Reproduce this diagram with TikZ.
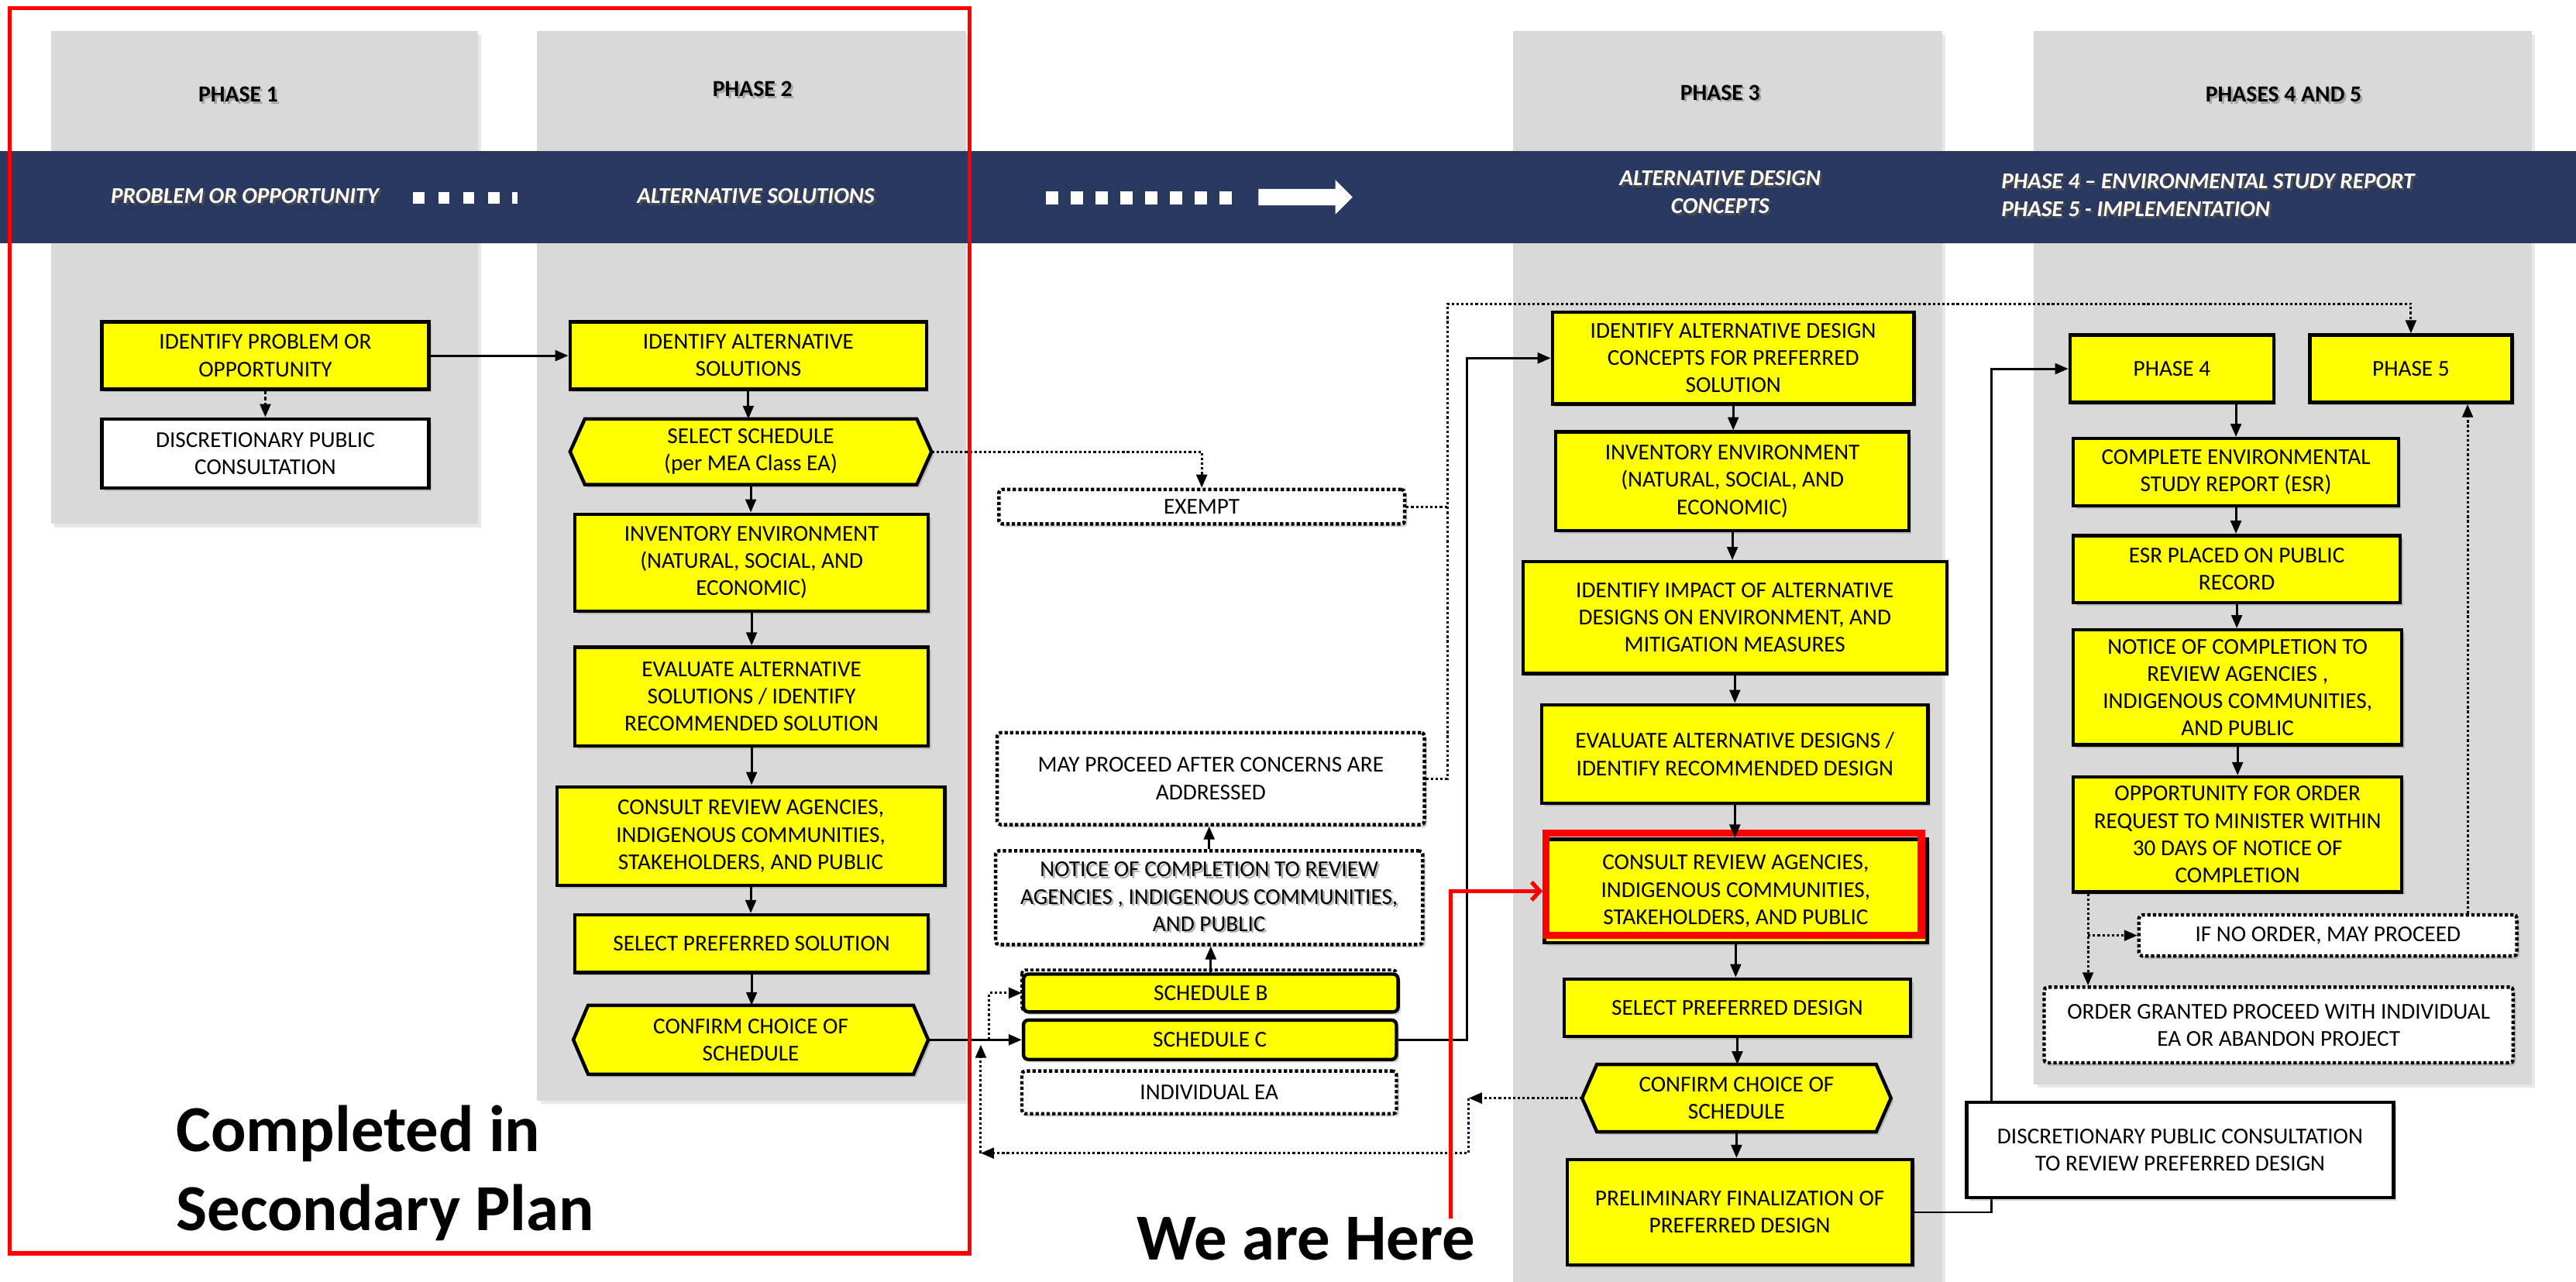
\documentclass[tikz,border=0pt]{standalone}
\usepackage{fontspec}
\setmainfont{Carlito}
\usetikzlibrary{arrows.meta,shadows,calc}
\definecolor{yel}{HTML}{FFFF00}
\definecolor{panel}{HTML}{D9D9D9}
\definecolor{navy}{RGB}{40,56,97}
\newcommand{\TxtShadow}[3]{\leavevmode\rlap{\kern#1\raisebox{-#1}{\color{#2}#3}}#3}
\newcommand{\hexpath}[2]{\draw[hexd] (#1.west) -- ($(#1.north west)+(#2,0)$) -- ($(#1.north east)+(-#2,0)$) -- (#1.east) -- ($(#1.south east)+(-#2,0)$) -- ($(#1.south west)+(#2,0)$) -- cycle;}
\begin{document}
\begin{tikzpicture}[x=1pt,y=-1pt,
  txt/.style={font=\fontsize{13.8}{16.6}\selectfont, align=center, inner sep=1pt},
  box/.style={txt, draw=black, line width=2.1pt, inner sep=2pt,
     drop shadow={shadow xshift=1.6pt, shadow yshift=-1.8pt, opacity=0.35}},
  ybox/.style={box, fill=yel},
  wbox/.style={box, fill=white},
  dbox/.style={box, fill=white, dash pattern=on 2pt off 1.4pt, rounded corners=2pt},
  rbox/.style={box, fill=yel, rounded corners=3pt},
  hexbase/.style={rectangle, inner sep=0pt, outer sep=0pt},
  hexd/.style={draw=black, line width=2.1pt, fill=yel, line join=miter,
     drop shadow={shadow xshift=1.6pt, shadow yshift=-1.8pt, opacity=0.35}},
  sz/.style 2 args={minimum width=#1, minimum height=#2},
  conn/.style={line width=1.4pt, -{Triangle[length=8pt,width=6.5pt]}},
  dconn/.style={conn, dash pattern=on 1.5pt off 1.4pt},
  dline/.style={line width=1.4pt, dash pattern=on 1.5pt off 1.4pt},
  hdr/.style={font=\bfseries\fontsize{14}{16.6}\selectfont, inner sep=0pt},
  band/.style={font=\bfseries\itshape\fontsize{13.8}{17}\selectfont, text=white, inner sep=0pt},
  pan/.style={fill=panel, drop shadow={shadow xshift=2pt, shadow yshift=-2pt, opacity=0.18}},
  big/.style={font=\bfseries\fontsize{40}{48}\selectfont, inner sep=0pt, anchor=base west}
]
\useasboundingbox (0,0) rectangle (1568,780);
\fill[white] (0,0) rectangle (1568,780);
% panels
\fill[pan] (31,19) rectangle (291,319);
\fill[pan] (327,19) rectangle (588,670);
\fill[pan] (921,19) rectangle (1182,790);
\fill[pan] (1238,19) rectangle (1541,660);
% band
\fill[navy] (0,92) rectangle (1568,148);
\foreach \xx in {251.4,266.7,282,297.3} \fill[white] (\xx,116.8) rectangle ++(6.8,7.4);
\fill[white] (311.7,116.8) rectangle ++(3.4,7.4);
\foreach \i in {0,...,7} \fill[white] ({636.7+15.09*\i},116.5) rectangle ++(7.4,7.8);
\fill[white] (766,115) -- (812.8,115) -- (812.8,109.5) -- (823.3,120) -- (812.8,130.5) -- (812.8,125) -- (766,125) -- cycle;
% headers
\node[hdr] (h1) at (145,58) {\TxtShadow{1.3pt}{black!35}{PHASE 1}};
\node[hdr] (h2) at (458,55) {\TxtShadow{1.3pt}{black!35}{PHASE 2}};
\node[hdr] (h3) at (1047,57) {\TxtShadow{1.3pt}{black!35}{PHASE 3}};
\node[hdr] (h4) at (1390,58) {\TxtShadow{1.3pt}{black!35}{PHASES 4 AND 5}};
\node[band] (b1) at (149,120) {\TxtShadow{1.3pt}{black!70}{PROBLEM OR OPPORTUNITY}};
\node[band] (b2) at (460,120) {\TxtShadow{1.3pt}{black!70}{ALTERNATIVE SOLUTIONS}};
\node[band, align=center] (b3) at (1047,117.5) {\TxtShadow{1.3pt}{black!70}{ALTERNATIVE DESIGN}\\\TxtShadow{1.3pt}{black!70}{CONCEPTS}};
\node[band, align=left, anchor=west] (b4) at (1218,119.5) {\TxtShadow{1.3pt}{black!70}{PHASE 4 – ENVIRONMENTAL STUDY REPORT}\\\TxtShadow{1.3pt}{black!70}{PHASE 5 - IMPLEMENTATION}};

% Phase 1
\node[ybox, sz={199}{41}] (p1a) at (161.5,216.5) {IDENTIFY PROBLEM OR\\OPPORTUNITY};
\node[wbox, sz={199}{42}] (p1b) at (161.5,276) {DISCRETIONARY PUBLIC\\CONSULTATION};
% Phase 2
\node[ybox, sz={217}{41}] (p2a) at (455.5,216.5) {IDENTIFY ALTERNATIVE\\SOLUTIONS};
\node[hexbase, sz={220}{40}] (p2b) at (457,275) {};
\hexpath{p2b}{9}
\node[txt] (p2bt) at (p2b) {SELECT SCHEDULE\\(per MEA Class EA)};
\node[ybox, sz={215}{59}] (p2c) at (457.5,342.5) {INVENTORY ENVIRONMENT\\(NATURAL, SOCIAL, AND\\ECONOMIC)};
\node[ybox, sz={215}{60}] (p2d) at (457.5,424) {EVALUATE ALTERNATIVE\\SOLUTIONS / IDENTIFY\\RECOMMENDED SOLUTION};
\node[ybox, sz={236}{60}] (p2e) at (457,509) {CONSULT REVIEW AGENCIES,\\INDIGENOUS COMMUNITIES,\\STAKEHOLDERS, AND PUBLIC};
\node[ybox, sz={215}{35}] (p2f) at (457.5,574.5) {SELECT PREFERRED SOLUTION};
\node[hexbase, sz={216}{42}] (p2g) at (457,633) {};
\hexpath{p2g}{9}
\node[txt] (p2gt) at (p2g) {CONFIRM CHOICE OF\\SCHEDULE};

% Middle column
\node[dbox, sz={247}{21}] (ex) at (731.5,308.5) {EXEMPT};
\node[dbox, sz={260}{56}] (mp) at (737,474) {MAY PROCEED AFTER CONCERNS ARE\\ADDRESSED};
\node[dbox, sz={260}{57}] (nc) at (736,546.5) {\TxtShadow{1.2pt}{black!30}{NOTICE OF COMPLETION TO REVIEW}\\\TxtShadow{1.2pt}{black!30}{AGENCIES , INDIGENOUS COMMUNITIES,}\\\TxtShadow{1.2pt}{black!30}{AND PUBLIC}};
\draw[line width=1.8pt, dash pattern=on 2pt off 1.4pt, rounded corners=2pt] (622,590.5) rectangle (850,615);
\node[rbox, sz={228}{23}] (sb) at (737,604.5) {SCHEDULE B};
\node[rbox, sz={227}{24}] (sc) at (736.5,633) {SCHEDULE C};
\node[dbox, sz={228}{26}] (ie) at (736,665) {INDIVIDUAL EA};

% Phase 3
\node[ybox, sz={220}{56}] (q1) at (1055,218) {IDENTIFY ALTERNATIVE DESIGN\\CONCEPTS FOR PREFERRED\\SOLUTION};
\node[ybox, sz={215}{60}] (q2) at (1054.5,293) {INVENTORY ENVIRONMENT\\(NATURAL, SOCIAL, AND\\ECONOMIC)};
\node[ybox, sz={258}{68}] (q3) at (1056,376) {IDENTIFY IMPACT OF ALTERNATIVE\\DESIGNS ON ENVIRONMENT, AND\\MITIGATION MEASURES};
\node[ybox, sz={235}{60}] (q4) at (1056,459) {EVALUATE ALTERNATIVE DESIGNS /\\IDENTIFY RECOMMENDED DESIGN};
\node[ybox, sz={233}{63}] (q5) at (1056.5,542.5) {CONSULT REVIEW AGENCIES,\\INDIGENOUS COMMUNITIES,\\STAKEHOLDERS, AND PUBLIC};
\draw[red, line width=4.5pt] (941,507.2) rectangle (1169.5,569.5);
\node[ybox, sz={211}{35}] (q6) at (1057.5,613.5) {SELECT PREFERRED DESIGN};
\node[hexbase, sz={188}{41}] (q7) at (1057,668.5) {};
\hexpath{q7}{9}
\node[txt] (q7t) at (q7) {CONFIRM CHOICE OF\\SCHEDULE};
\node[ybox, sz={210}{64}] (q8) at (1059,738) {PRELIMINARY FINALIZATION OF\\PREFERRED DESIGN};

% Phases 4 and 5
\node[ybox, sz={124}{41}] (r4) at (1322,224.5) {PHASE 4};
\node[ybox, sz={123}{41}] (r5) at (1467.5,224.5) {PHASE 5};
\node[ybox, sz={198}{41}] (r1) at (1361,287.5) {COMPLETE ENVIRONMENTAL\\STUDY REPORT (ESR)};
\node[ybox, sz={199}{41}] (r2) at (1361.5,346.5) {ESR PLACED ON PUBLIC\\RECORD};
\node[ybox, sz={200}{70}] (r3) at (1362,418.5) {NOTICE OF COMPLETION TO\\REVIEW AGENCIES ,\\INDIGENOUS COMMUNITIES,\\AND PUBLIC};
\node[ybox, sz={200}{70}] (r6) at (1362,508) {OPPORTUNITY FOR ORDER\\REQUEST TO MINISTER WITHIN\\30 DAYS OF NOTICE OF\\COMPLETION};
\node[dbox, sz={230}{25}] (r7) at (1417,569.5) {IF NO ORDER, MAY PROCEED};
\node[dbox, sz={285.5}{46}] (r8) at (1387,624) {ORDER GRANTED PROCEED WITH INDIVIDUAL\\EA OR ABANDON PROJECT};

% coordinates
\coordinate (j1) at (881,185);
\coordinate (k1) at (602,633);
\coordinate (k2) at (893,218);
\coordinate (k3) at (894,668.5);
\coordinate (k4) at (894,702);
\coordinate (k5) at (597,702);
\coordinate (k6) at (597,636);
\coordinate (k7) at (1212,224.5);
\coordinate (we) at (883,742);
\coordinate (m1) at ($(r6.south west)+(10,0)$);
\coordinate (m2) at ($(r7.north)+(85,0)$);

% connectors phase 1/2
\draw[conn] (p1a.east) -- (p2a.west);
\draw[conn, dash pattern=on 2pt off 1.6pt] (p1a.south) -- (p1b.north);
\draw[conn] (p2a.south) -- (p2a.south |- p2b.north);
\draw[conn] (p2b.south) -- (p2b.south |- p2c.north);
\draw[conn] (p2c.south) -- (p2c.south |- p2d.north);
\draw[conn] (p2d.south) -- (p2d.south |- p2e.north);
\draw[conn] (p2e.south) -- (p2e.south |- p2f.north);
\draw[conn] (p2f.south) -- (p2f.south |- p2g.north);
\draw[dconn] (p2b.east) -| (ex.north);
\draw[dline] (ex.east) -- (ex.east -| j1);
\draw[dconn] (mp.east) -| (j1) -| (r5.north);
\draw[conn] (nc.north) -- (nc.north |- mp.south);
\draw[conn] (sb.north) -- (sb.north |- nc.south);
\draw[conn] (p2g.east) -- (sc.west);
\draw[dconn] (k1) |- (sb.west);
\draw[conn] (sc.east) -| (k2) -- (q1.west);
\draw[dconn] (q7.west) -- (k3);
\draw[dconn] (k3) -- (k4) -- (k5);
\draw[dconn] (k5) -- (k6);
% phase 3 chain
\draw[conn] (q1.south) -- (q1.south |- q2.north);
\draw[conn] (q2.south) -- (q2.south |- q3.north);
\draw[conn] (q3.south) -- (q3.south |- q4.north);
\draw[conn] (q4.south) -- (q4.south |- q5.north);
\draw[conn] (q5.south) -- (q5.south |- q6.north);
\draw[conn] (q6.south) -- (q6.south |- q7.north);
\draw[conn] (q7.south) -- (q7.south |- q8.north);
\draw[conn] (q8.east) -| (k7) -- (r4.west);
% phases 4/5 chain
\draw[conn] (r1.north |- r4.south) -- (r1.north);
\draw[conn] (r1.south) -- (r1.south |- r2.north);
\draw[conn] (r2.south) -- (r2.south |- r3.north);
\draw[conn] (r3.south) -- (r3.south |- r6.north);
\draw[dconn] (m1) -- (m1 |- r8.north);
\draw[dconn] (m1 |- r7.west) -- (r7.west);
\draw[dconn] (m2) -- (m2 |- r5.south);

\node[wbox, sz={260}{58}] (r9) at (1327,700) {DISCRETIONARY PUBLIC CONSULTATION\\TO REVIEW PREFERRED DESIGN};

% we are here
\draw[red, line width=2.2pt, -{Straight Barb[length=5pt,width=11pt,line width=2.5pt]}] (we) |- (q5.west);
\node[big] (wah) at (692,767) {We are Here};
\node[big] (cmp1) at (107,701) {Completed in};
\node[big] (cmp2) at (107,749) {Secondary Plan};
% red frame
\draw[red, line width=2.4pt] (6,5) rectangle (590,763);
\end{tikzpicture}
\end{document}
